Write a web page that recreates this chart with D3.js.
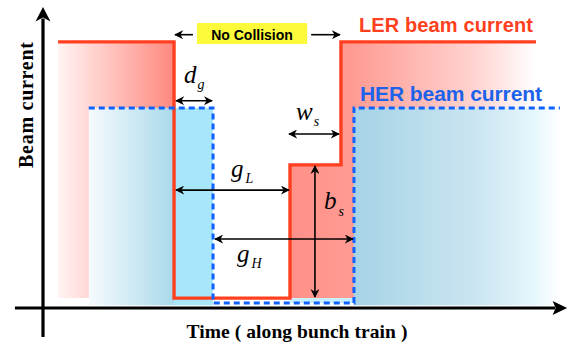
<!DOCTYPE html>
<html><head><meta charset="utf-8">
<script src="https://cdn.jsdelivr.net/npm/d3@7"></script>
<style>
html,body{margin:0;padding:0;background:#fff;}
svg{display:block;}
</style></head>
<body>
<svg id="chart" width="571" height="347"></svg>
<script>
// ---- data (abstract time / current units) ----
const lerTime    = [2.9, 25.2, 25.2, 47.5, 47.5, 57.3, 57.3, 94.8];
const lerCurrent = [88.7, 88.7, 3.3, 3.3, 47.7, 47.7, 88.7, 88.7];
const herTime    = [8.8, 32.7, 32.7, 59.8, 59.8, 99.4];
const herCurrent = [66.7, 66.7, 1.7, 1.7, 66.7, 66.7];
const herFillBottom = 0.9;
const lerLabel = "LER beam current";
const herLabel = "HER beam current";
const xLabel = "Time ( along bunch train )";
const yLabel = "Beam current";
const noCollision = "No Collision";

const svg = d3.select("#chart");
const x = d3.scaleLinear().domain([0, 100]).range([43, 563]);
const y = d3.scaleLinear().domain([0, 100]).range([308, 8]);

const ler = lerTime.map((t, i) => ({t, c: lerCurrent[i]}));
const her = herTime.map((t, i) => ({t, c: herCurrent[i]}));

const defs = svg.append("defs");
function grad(id, x1, x2, stops) {
  const g = defs.append("linearGradient").attr("id", id)
    .attr("gradientUnits", "userSpaceOnUse")
    .attr("x1", x1).attr("x2", x2).attr("y1", 0).attr("y2", 0);
  stops.forEach(s => g.append("stop").attr("offset", s[0]).attr("stop-color", s[1]));
}
grad("lerL", x(ler[0].t), x(ler[1].t), [[0, "#fff4f3"], [1, "#ff887e"]]);
const cut = (ler[1].t - her[0].t) / (her[1].t - her[0].t);
grad("herL", x(her[0].t), x(her[1].t), [[0, "#f6fbfd"], [cut, "#a9d9ea"], [cut, "#a8e6fa"], [1, "#a8e6fa"]]);
grad("lerR", x(ler[3].t), x(ler[7].t), [[0, "#ff9088"], [0.25, "#ff9b93"], [0.75, "#ffd3d0"], [1, "#ffffff"]]);
grad("herR", x(her[4].t), x(her[5].t), [[0, "#a6d3e6"], [0.6, "#cbe5f1"], [0.88, "#e6f7fd"], [1, "#ffffff"]]);

const area = d3.area().x(d => x(d.t)).y0(d => y(d.b)).y1(d => y(d.c)).curve(d3.curveLinear);

// LER left fill
svg.append("path").attr("d", area([
  {t: ler[0].t, c: ler[0].c, b: ler[2].c}, {t: ler[1].t, c: ler[1].c, b: ler[2].c}
])).attr("fill", "url(#lerL)");
// HER left fill
svg.append("path").attr("d", area([
  {t: her[0].t, c: her[0].c, b: herFillBottom}, {t: her[1].t, c: her[1].c, b: herFillBottom}
])).attr("fill", "url(#herL)");
// LER right fill (step)
svg.append("path").attr("d", area.curve(d3.curveStepBefore)([
  {t: ler[3].t, c: ler[4].c, b: ler[3].c},
  {t: ler[5].t, c: ler[5].c, b: ler[3].c},
  {t: ler[7].t, c: ler[7].c, b: ler[3].c}
])).attr("fill", "url(#lerR)");
area.curve(d3.curveLinear);
// thin cyan band under LER step
svg.append("rect")
  .attr("x", x(ler[4].t)).attr("width", x(her[3].t) - x(ler[4].t))
  .attr("y", y(ler[3].c)).attr("height", y(her[2].c) - y(ler[3].c))
  .attr("fill", "#c6f0ff");
// HER right fill
svg.append("path").attr("d", area([
  {t: her[4].t, c: her[4].c, b: herFillBottom}, {t: her[5].t, c: her[5].c, b: herFillBottom}
])).attr("fill", "url(#herR)");

const line = d3.line().x(d => x(d.t)).y(d => y(d.c));
svg.append("path").attr("d", line(ler)).attr("fill", "none")
  .attr("stroke", "#ff4020").attr("stroke-width", 3.4).attr("stroke-linejoin", "miter");
svg.append("path").attr("d", line(her)).attr("fill", "none")
  .attr("stroke", "#0f62ff").attr("stroke-width", 3).attr("stroke-dasharray", "6,4");

// axes
svg.append("line").attr("x1", x(0)).attr("x2", x(0)).attr("y1", y(-9.7)).attr("y2", y(96.5))
  .attr("stroke", "#000").attr("stroke-width", 3.2);
svg.append("path").attr("d", `M${x(0)},${y(100.3)} L${x(0) - 7.5},${y(95.5)} L${x(0)},${y(96.8)} L${x(0) + 7.5},${y(95.5)} Z`).attr("fill", "#000");
svg.append("line").attr("x1", x(-5.4)).attr("x2", x(98.5)).attr("y1", y(0)).attr("y2", y(0))
  .attr("stroke", "#000").attr("stroke-width", 3.2);
svg.append("path").attr("d", `M${x(100.8)},${y(0)} L${x(98.0)},${y(0) - 7} L${x(98.6)},${y(0)} L${x(98.0)},${y(0) + 7} Z`).attr("fill", "#000");

// axis labels
svg.append("text").attr("x", 297).attr("y", 338).attr("text-anchor", "middle")
  .attr("font-family", "'Liberation Serif','Times New Roman',serif").attr("font-weight", "bold")
  .attr("font-size", 19.5).attr("textLength", 221).attr("fill", "#000").text(xLabel);
svg.append("text").attr("transform", "translate(33,105) rotate(-90)").attr("text-anchor", "middle")
  .attr("font-family", "'Liberation Serif','Times New Roman',serif").attr("font-weight", "bold")
  .attr("font-size", 20).attr("textLength", 126).attr("fill", "#000").text(yLabel);

// series labels
svg.append("text").attr("x", 359).attr("y", 32)
  .attr("font-family", "'Liberation Sans',Arial,sans-serif").attr("font-weight", "bold")
  .attr("font-size", 20).attr("textLength", 174).attr("fill", "#ff4020").text(lerLabel);
svg.append("text").attr("x", 360).attr("y", 101)
  .attr("font-family", "'Liberation Sans',Arial,sans-serif").attr("font-weight", "bold")
  .attr("font-size", 21).attr("textLength", 182).attr("fill", "#1c62ea").text(herLabel);

// arrow marker
const mk = defs.append("marker").attr("id", "ah").attr("viewBox", "0 0 10 10")
  .attr("refX", 9).attr("refY", 5).attr("markerWidth", 9).attr("markerHeight", 9)
  .attr("markerUnits", "userSpaceOnUse").attr("orient", "auto-start-reverse");
mk.append("path").attr("d", "M0,0 L10,5 L0,10 L3,5 Z").attr("fill", "#000");

function dim(x1, y1, x2, y2, both) {
  const l = svg.append("line").attr("x1", x1).attr("y1", y1).attr("x2", x2).attr("y2", y2)
    .attr("stroke", "#000").attr("stroke-width", 1.6).attr("marker-end", "url(#ah)");
  if (both) l.attr("marker-start", "url(#ah)");
}

// No Collision box
const boxT0 = 29.6, boxT1 = 50.8, boxC0 = 88, boxC1 = 95;
svg.append("rect").attr("x", x(boxT0)).attr("y", y(boxC1)).attr("width", x(boxT1) - x(boxT0))
  .attr("height", y(boxC0) - y(boxC1)).attr("fill", "#fbfb3c");
svg.append("text").attr("x", (x(boxT0) + x(boxT1)) / 2).attr("y", 39.5).attr("text-anchor", "middle")
  .attr("font-family", "'Liberation Sans',Arial,sans-serif").attr("font-weight", "bold")
  .attr("font-size", 14).attr("fill", "#000").text(noCollision);
const ncY = y(91.1);
dim(x(boxT0) - 4, ncY, x(ler[1].t) + 1, ncY, false);
dim(x(boxT1) + 4, ncY, x(ler[6].t) - 1, ncY, false);

// dimension arrows
dim(x(ler[1].t) + 2, y(69.1), x(her[1].t) - 1, y(69.1), true);       // d_g
dim(x(ler[4].t) - 1, y(58), x(ler[6].t) - 2, y(58), true);            // w_s
dim(x(ler[1].t) + 2, y(39.3), x(ler[4].t) - 1, y(39.3), true);        // g_L
dim(x(her[1].t) + 2, y(23), x(her[3].t) - 1, y(23), true);            // g_H
const bsT = 52.3;
dim(x(bsT), y(ler[4].c) + 1, x(bsT), y(ler[3].c) - 1, true);          // b_s

// math labels
function mathLabel(px, py, main, sub, subDx, subDy) {
  const t = svg.append("text").attr("x", px).attr("y", py)
    .attr("font-family", "'Liberation Serif','Times New Roman',serif").attr("font-style", "italic")
    .attr("font-size", 25).attr("fill", "#000");
  t.append("tspan").text(main);
  t.append("tspan").attr("font-size", 14).attr("dx", subDx).attr("dy", subDy).text(sub);
}
mathLabel(184, 83, "d", "g", 1, 6);
mathLabel(296, 120, "w", "s", 1, 6);
mathLabel(231, 177, "g", "L", 2, 6);
mathLabel(237, 262, "g", "H", 2, 6);
mathLabel(324, 209, "b", "s", 2, 7);
</script>
</body></html>
